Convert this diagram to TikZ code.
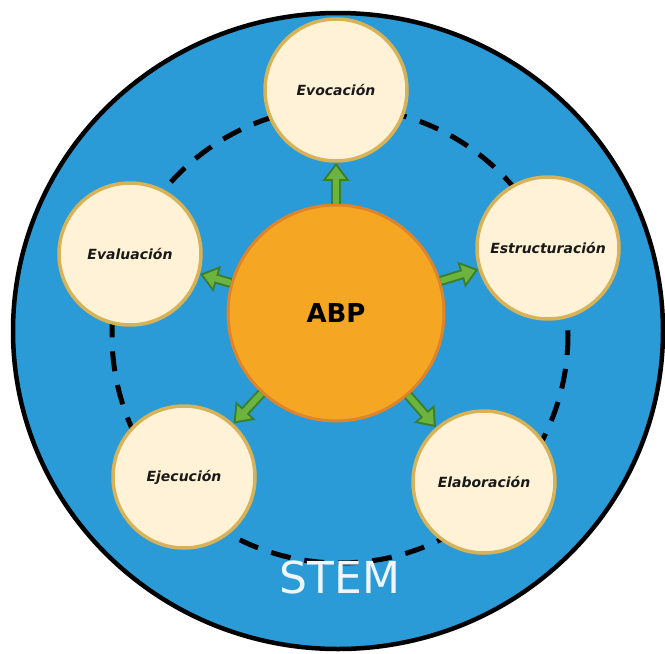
\documentclass[tikz,border=0pt]{standalone}
\usepackage{fontspec}
\setmainfont{DejaVu Sans}
\usetikzlibrary{arrows.meta}

\definecolor{stemblue}{HTML}{2A9BD7}
\definecolor{abpfill}{HTML}{F5A623}
\definecolor{abpline}{HTML}{E0842A}
\definecolor{phasefill}{HTML}{FFF2D6}
\definecolor{phaseline}{HTML}{D8B257}
\definecolor{arrowfill}{HTML}{6DB43F}
\definecolor{arrowline}{HTML}{3B7F2E}
\definecolor{stemtext}{HTML}{EEF6FC}

\tikzset{
  core/.style={circle, minimum size=216pt, inner sep=0pt, fill=abpfill,
    draw=abpline, line width=3pt, font=\bfseries\fontsize{26}{30}\selectfont},
  phase/.style={circle, minimum size=142pt, inner sep=0pt, fill=phasefill,
    draw=phaseline, line width=3.5pt,
    font=\bfseries\itshape\fontsize{14}{16}\selectfont, text=black!90},
  flowout/.style={draw=arrowline, line width=10pt,
    -{Triangle[length=18pt,width=26pt]}},
  flowin/.style={draw=arrowfill, line width=6pt, shorten >=3.4pt,
    -{Triangle[length=12.6pt,width=18.2pt]}},
}

\begin{document}
\begin{tikzpicture}[x=1pt,y=-1pt]
  \useasboundingbox (0,0) rectangle (665,654);

  % STEM field
  \fill[white] (0,0) rectangle (665,654);
  \draw[fill=stemblue, line width=4.5pt] (338,331) ellipse [x radius=325, y radius=318];

  % cycle of phases
  \draw[line width=5pt, dash pattern=on 20pt off 14pt] (340,335) circle [radius=228];

  % centre and phases
  \node[core] (abp) at (336,313) {ABP};
  \node[phase] (evo) at (336,90) {Evocación};
  \node[phase] (est) at (548,248) {Estructuración};
  \node[phase] (ela) at (484,482) {Elaboración};
  \node[phase] (eje) at (184,477) {Ejecución};
  \node[phase] (eva) at (130,254) {Evaluación};

  % block arrows from the centre to each phase
  \foreach \t in {evo,est,ela,eje,eva}{
    \draw[flowout] (abp) -- (\t);
    \draw[flowin] (abp) -- (\t);
  }

  \node[text=stemtext, font=\fontsize{44}{50}\selectfont] (stem) at (340,577) {STEM};
\end{tikzpicture}
\end{document}
